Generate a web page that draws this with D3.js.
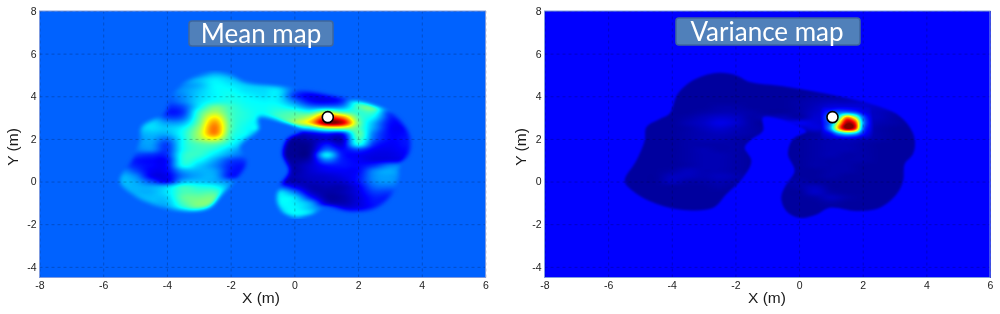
<!DOCTYPE html>
<html><head><meta charset="utf-8">
<script src="https://cdn.jsdelivr.net/npm/d3@7/dist/d3.min.js"></script>
<style>html,body{margin:0;background:#fff;width:1000px;height:314px;overflow:hidden}
#wrap{position:relative;width:1000px;height:314px}canvas,svg{position:absolute;left:0;top:0}</style>
</head><body><div id="wrap"></div>
<script>
const gridX = d3.range(-6, 4.01, 0.5);
const gridY = d3.range(5.25, -1.76, -0.25);
const ticksX = [-8,-6,-4,-2,0,2,4,6];
const ticksY = [-4,-2,0,2,4,6,8];
const robot = [1.05, 3.02];
const meanBackground = 22;
const varBackground = 12.5;
const outlineX = [-4.07,-3.81,-3.33,-2.60,-1.97,-1.55,-0.50,0.55,1.59,2.43,3.06,3.48,3.64,3.58,3.32,3.27,3.06,2.54,1.80,0.96,0.55,0.02,-0.40,-0.56,-0.40,-0.14,-0.35,-0.19,0.23,-1.13,-1.13,-1.55,-1.71,-1.50,-1.76,-2.29,-2.70,-3.75,-4.70,-5.22,-5.48,-5.12,-4.85,-4.80,-4.38];
const outlineY = [3.18,4.12,4.75,5.09,4.98,4.67,4.47,4.20,3.88,3.57,3.18,2.55,1.92,1.29,0.82,0.03,-0.60,-1.23,-1.38,-1.23,-1.54,-1.70,-1.38,-0.75,-0.13,0.50,1.29,2.00,2.36,3.02,2.39,1.92,1.60,0.97,0.19,-0.60,-1.23,-1.31,-0.91,-0.44,0.03,0.97,1.92,2.55,2.94];
const meanValues = [
[22,22,22,22,22,26,28,32,30,26,22,22,22,22,22,22,22,22,22,22,22],
[22,22,22,22,22,26,28,32,30,26,22,22,22,22,22,22,22,22,22,22,22],
[22,22,22,22,22,27,31,36,33,29,24,22,22,22,22,22,22,22,22,22,22],
[22,22,22,22,22,26,30,37,36,33,32,32,25,20,20,22,22,22,22,22,22],
[22,22,22,22,23,27,32,37,38,35,34,35,21,14,15,20,22,22,22,22,22],
[22,22,22,22,22,26,33,37,39,37,35,35,18,11,11,14,27,26,22,22,22],
[22,22,22,22,20,25,34,39,40,38,37,36,25,14,12,17,42,44,22,22,22],
[22,22,22,22,17,20,36,48,43,39,38,39,34,25,25,27,44,50,30,22,22],
[22,22,22,24,15,18,42,54,44,40,38,42,44,42,56,46,42,42,18,14,22],
[22,22,28,32,20,22,45,64,45,40,38,44,48,58,84,76,46,36,16,13,13],
[22,22,31,34,28,30,48,72,46,39,37,44,52,66,98,92,50,30,14,13,13],
[22,22,30,34,32,37,52,76,46,38,36,22,30,36,52,54,46,28,13,12,13],
[22,22,28,31,30,39,54,74,44,37,26,22,8,11,16,16,46,24,13,13,13],
[22,22,26,29,24,38,52,60,42,33,22,5,3,5,8,7,43,22,13,14,14],
[22,22,26,28,19,38,45,46,38,29,22,5,2,3,14,9,38,17,12,14,14],
[22,22,24,26,18,38,43,40,32,25,22,5,2,3,22,13,19,12,11,13,14],
[22,22,19,17,17,40,42,35,27,22,22,5,2,4,35,15,12,10,10,12,14],
[22,22,15,13,14,40,38,29,19,18,22,6,3,6,24,15,12,10,11,12,14],
[22,22,16,13,14,38,33,26,16,15,22,6,4,8,14,14,13,17,24,24,22],
[22,28,20,12,13,28,30,28,15,15,22,6,4,8,11,12,13,25,29,24,22],
[22,30,26,12,11,24,29,29,15,18,22,6,5,7,8,10,14,26,28,24,22],
[22,30,29,20,13,30,32,30,25,22,22,8,5,6,7,8,14,25,27,22,22],
[22,30,30,29,32,42,40,38,29,22,22,22,12,5,5,5,11,22,23,22,22],
[22,29,30,30,35,44,44,44,32,22,22,34,24,8,4,5,10,18,18,22,22],
[22,22,30,31,33,46,48,48,34,22,22,36,34,16,4,4,9,15,15,22,22],
[22,22,30,31,31,44,50,48,32,22,22,36,36,28,8,5,9,14,14,22,22],
[22,22,22,30,30,40,48,42,26,22,22,34,37,31,20,10,10,13,14,22,22],
[22,22,22,22,29,36,42,30,22,22,22,32,37,34,22,14,12,14,22,22,22],
[22,22,22,22,22,22,22,22,22,22,22,22,32,26,22,22,22,22,22,22,22]
];
const varValues = [
[3,3,3,3,3,3,3,3,3,3,3,3,3,3,3,3,3,3,3,3,3],
[3,3,3,3,3,3,3,3,3,3,3,3,3,3,3,3,3,3,3,3,3],
[3,3,3,3,3,3,3,3,3,3,3,3,3,3,3,3,3,3,3,3,3],
[3,3,3,3,3,3,3,3,3,3,3,3,3,3,3,3,3,3,3,3,3],
[3,3,3,3,3,3,3,3,3,3,3,3,3,3,3,3,3,3,3,3,3],
[3,3,3,3,3,3,3,3,3,3,3,3,3,4,4,4,5,4,3,3,3],
[3,3,3,3,3,3,3,3,3,3,3,3,4,5,6,6,7,8,4,3,3],
[3,3,3,3,3,3,3,4,4,3,3,3,4,6,9,9,8,7,9,4,3],
[3,3,3,3,3,3,4,5,5,4,3,3,4,7,9,9,7,6,5,4,3],
[3,3,3,3,3,4,6,8,7,4,5,6,4,8,8,8,7,6,4,3,3],
[3,3,3,3,3,5,7,10,8,4,3,8,11,9,8,8,7,5,4,3,3],
[3,3,3,3,3,4,6,8,6,4,3,3,6,9,7,7,6,4,3,3,3],
[3,3,3,3,3,4,5,6,5,4,3,3,3,4,6,6,6,4,3,3,3],
[3,3,3,3,3,4,5,5,4,3,3,3,3,4,5,6,5,4,3,3,3],
[3,3,3,3,3,4,4,4,4,3,3,3,3,4,5,5,4,3,3,3,3],
[3,3,3,3,3,4,5,4,4,3,3,3,3,4,5,5,4,3,3,3,3],
[3,3,3,3,3,4,5,5,4,3,3,3,3,4,5,4,4,3,3,3,3],
[3,3,3,3,3,4,5,5,4,3,3,3,3,4,4,4,4,3,3,3,3],
[3,3,3,3,3,4,5,5,4,3,3,3,3,4,4,4,3,3,3,3,3],
[3,3,3,3,4,6,5,5,4,3,3,3,3,3,4,4,3,3,3,3,3],
[3,3,3,3,6,6,5,6,5,3,3,3,3,3,4,3,3,3,3,3,3],
[3,3,3,3,6,4,4,5,4,3,3,4,4,3,3,3,3,3,3,3,3],
[3,3,3,3,3,3,3,4,3,3,3,3,4,6,3,3,3,3,3,3,3],
[3,3,3,3,3,3,3,3,3,3,3,3,3,7,4,3,3,3,3,3,3],
[3,3,3,3,3,3,3,3,3,3,3,3,3,4,6,4,3,3,3,3,3],
[3,3,3,3,3,3,3,3,3,3,3,3,3,3,4,3,3,3,3,3,3],
[3,3,3,3,3,3,3,3,3,3,3,3,3,3,3,3,3,3,3,3,3],
[3,3,3,3,3,3,3,3,3,3,3,3,3,3,3,3,3,3,3,3,3],
[3,3,3,3,3,3,3,3,3,3,3,3,3,3,3,3,3,3,3,3,3]
];
const peakX = [0.5,0.75,1,1.25,1.5,1.75,2,2.25,2.5];
const peakY = [3.75,3.5,3.25,3,2.75,2.5,2.25,2,1.75];
const peakValues = [
[0,0,0,0,0,0,0,0,0],
[0,8,9,10,10,9,8,7,0],
[0,12,18,22,24,20,12,8,0],
[0,14,26,42,74,58,24,10,0],
[0,13,26,62,96,86,30,11,0],
[0,12,30,72,100,88,26,10,0],
[0,8,14,28,36,32,16,8,0],
[0,5,7,8,9,8,6,5,0],
[0,0,0,0,0,0,0,0,0]
];
const jetStops = [0,0.125,0.375,0.625,0.875,1];
const jetColors = ["#000080","#0000ff","#00ffff","#ffff00","#ff0000","#800000"];

const W=1000,H=314;
const plotTop=11, plotBottom=277.5;
const y = d3.scaleLinear().domain([8,-4.5]).range([plotTop,plotBottom]);
const panels = [
 {title:"Mean map", left:39.5, right:485.5, values:meanValues, bg:meanBackground, blur:2, patch:false, box:[189,21,144,25], boxText:[261,33.5], label:261, yLabel:13},
 {title:"Variance map", left:544.5, right:990, values:varValues, bg:varBackground, blur:1, patch:true, box:[676,18,184,27], boxText:[767,32], label:767, yLabel:521}
];
const wrap=d3.select("#wrap");
const canvas=wrap.append("canvas").attr("width",W).attr("height",H).node();
const ctx=canvas.getContext("2d");
ctx.fillStyle="#fff";ctx.fillRect(0,0,W,H);
const svg=wrap.append("svg").attr("width",W).attr("height",H);
const colour=d3.scaleLinear().domain(jetStops).range(jetColors).clamp(true);
const lut=d3.range(513).map(i=>d3.rgb(colour(i/512)));
const tickText=d=>String(d);

function cr(p0,p1,p2,p3,t){return 0.5*(2*p1+(p2-p0)*t+(2*p0-5*p1+4*p2-p3)*t*t+(3*p1-p0-3*p2+p3)*t*t*t);}
function sample(m,xs,ys,dx,dy){
 const fx=(dx-xs[0])/(xs[1]-xs[0]), fy=(dy-ys[0])/(ys[1]-ys[0]);
 if(fx<0||fy<0||fx>xs.length-1||fy>ys.length-1) return null;
 const i=Math.min(Math.floor(fx),xs.length-2), j=Math.min(Math.floor(fy),ys.length-2);
 const tx=fx-i, ty=fy-j;
 const row=r=>{const R=m[Math.max(0,Math.min(ys.length-1,r))];
  const g=c=>R[Math.max(0,Math.min(xs.length-1,c))];
  return cr(g(i-1),g(i),g(i+1),g(i+2),tx);};
 return cr(row(j-1),row(j),row(j+1),row(j+2),ty);
}
panels.forEach(p=>{
 const x=d3.scaleLinear().domain([-8,6]).range([p.left,p.right]);
 const L=Math.round(p.left),T=Math.round(plotTop),w=Math.round(p.right-p.left),h=Math.round(plotBottom-plotTop);
 const mc=document.createElement("canvas");mc.width=W;mc.height=H;
 const mx=mc.getContext("2d");
 const pts=outlineX.map((v,i)=>[v,outlineY[i]]);
 mx.filter=`blur(${p.blur}px)`;
 mx.fillStyle="#000";
 d3.line().x(d=>x(d[0])).y(d=>y(d[1])).curve(d3.curveCatmullRomClosed.alpha(0.5)).context(mx)(pts);
 mx.fill();
 const mask=mx.getImageData(0,0,W,H).data;
 const img=ctx.createImageData(w,h);
 for(let py=0;py<h;py++)for(let px=0;px<w;px++){
  const sx=L+px, sy=T+py, dx=x.invert(sx+.5), dy=y.invert(sy+.5);
  const a=mask[(sy*W+sx)*4+3]/255;
  let v=p.bg;
  if(a>0){
   let s=sample(p.values,gridX,gridY,dx,dy);
   if(s===null)s=p.bg;
   if(p.patch){const q=sample(peakValues,peakX,peakY,dx,dy);if(q!==null&&q>s)s=q;}
   v=p.bg*(1-a)+s*a;
  }
  const c=lut[Math.max(0,Math.min(512,Math.round(v/100*512)))];
  const k=(py*w+px)*4;
  img.data[k]=c.r;img.data[k+1]=c.g;img.data[k+2]=c.b;img.data[k+3]=255;
 }
 ctx.putImageData(img,L,T);

 const g=svg.append("g");
 const fontF="'Liberation Sans',Arial,sans-serif";
 g.append("g").attr("transform",`translate(0,${plotBottom})`)
  .call(d3.axisBottom(x).tickValues(ticksX).tickSize(0).tickFormat(tickText))
  .call(s=>s.select(".domain").remove())
  .call(s=>s.selectAll("line").attr("y1",0).attr("y2",-(plotBottom-plotTop)).attr("stroke","#000").attr("stroke-opacity",.22).attr("stroke-dasharray","3,3"))
  .call(s=>s.selectAll("text").attr("y",4.5).attr("dy",".71em").attr("font-size",10.5).attr("fill","#222").attr("font-family",fontF));
 g.append("g").attr("transform",`translate(${p.left},0)`)
  .call(d3.axisLeft(y).tickValues(ticksY).tickSize(0).tickPadding(3).tickFormat(tickText))
  .call(s=>s.select(".domain").remove())
  .call(s=>s.selectAll("line").attr("x1",0).attr("x2",p.right-p.left).attr("stroke","#000").attr("stroke-opacity",.22).attr("stroke-dasharray","3,3"))
  .call(s=>s.selectAll("text").attr("font-size",10.5).attr("fill","#222").attr("font-family",fontF));
 g.append("rect").attr("x",p.left).attr("y",plotTop).attr("width",p.right-p.left).attr("height",plotBottom-plotTop)
  .attr("fill","none").attr("stroke","#7f9be0").attr("stroke-width",1);
 g.append("text").attr("x",p.label).attr("y",303).attr("text-anchor","middle").attr("font-size",15.5).attr("fill","#1a1a1a").attr("font-family",fontF).text("X (m)");
 g.append("text").attr("transform",`translate(${p.yLabel+5},147) rotate(-90)`).attr("text-anchor","middle").attr("font-size",15.5).attr("fill","#1a1a1a").attr("font-family",fontF).text("Y (m)");
 g.append("rect").attr("x",p.box[0]).attr("y",p.box[1]).attr("width",p.box[2]).attr("height",p.box[3]).attr("rx",3)
  .attr("fill","#5080ba").attr("stroke","#3f679c").attr("stroke-width",1.5);
 g.append("text").attr("x",p.boxText[0]).attr("y",p.boxText[1]).attr("dy",".36em").attr("text-anchor","middle").attr("font-size",26).attr("font-weight",400).attr("fill","#fff").attr("font-family","Lato,'Open Sans',sans-serif").text(p.title);
 g.append("circle").attr("cx",x(robot[0])).attr("cy",y(robot[1])).attr("r",5.5).attr("fill","#fff").attr("stroke","#000").attr("stroke-width",1.6);
});
</script></body></html>
